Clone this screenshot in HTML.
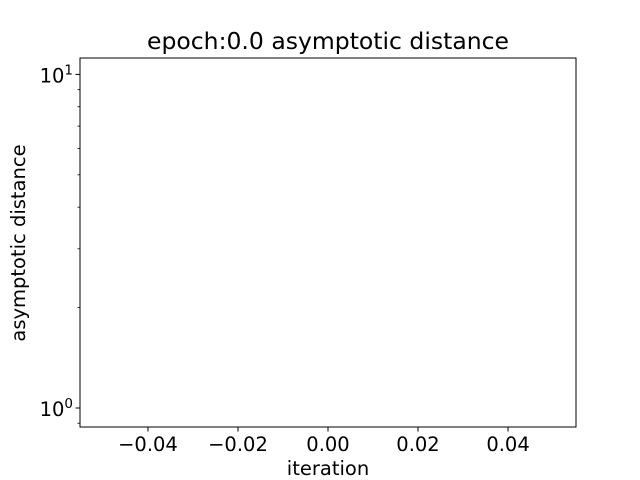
<!DOCTYPE html>
<html><head><meta charset="utf-8"><style>
html,body{margin:0;padding:0;background:#fff;}
svg{display:block;font-family:"DejaVu Sans","Liberation Sans",sans-serif;}
</style></head><body>
<svg id="chart" width="640" height="480">
<rect width="640" height="480" fill="#fff"/>
<text x="328" y="49" text-anchor="middle" font-size="23.5">epoch:0.0 asymptotic distance</text>
<g id="axes"></g>
<text x="328" y="475" text-anchor="middle" font-size="19.5">iteration</text>
<text transform="translate(25,243) rotate(-90)" text-anchor="middle" font-size="19.5">asymptotic distance</text>
</svg>
<script>
const xTicks = [-0.04, -0.02, 0.00, 0.02, 0.04];
const xTickLabels = ["\u22120.04", "\u22120.02", "0.00", "0.02", "0.04"];
const yMajorTicks = [1, 10];
const yMinorTicks = [0.9, 2, 3, 4, 5, 6, 7, 8, 9];
const xDomain = [-0.0551, 0.0551];
const yDomain = [0.877, 11.2];

const L = 80, R = 576, T = 58, B = 427;
const NS = "http://www.w3.org/2000/svg";
const g = document.getElementById('axes');
function xs(v){ return L + (v - xDomain[0]) / (xDomain[1] - xDomain[0]) * (R - L); }
function ys(v){ const a = Math.log10(yDomain[0]), b = Math.log10(yDomain[1]); return B - (Math.log10(v) - a) / (b - a) * (B - T); }
function mk(tag, attrs){ const e = document.createElementNS(NS, tag); for (const k in attrs) e.setAttribute(k, attrs[k]); g.appendChild(e); return e; }

const frame = mk('rect', {x: L, y: T, width: R - L, height: B - T, fill: 'none', stroke: '#000', 'stroke-width': 1});



xTicks.forEach((v, i) => {
  const x = xs(v);
  const t = mk('line', {x1: x, x2: x, y1: B, y2: B + 4.5, stroke: '#000', 'stroke-width': 1});
  
  
  const lb = mk('text', {x: x, y: B + 24, 'text-anchor': 'middle', 'font-size': 19.5});
  lb.textContent = xTickLabels[i];
  
  
});

yMajorTicks.forEach(v => {
  const y = ys(v);
  const t = mk('line', {x1: L - 4.5, x2: L, y1: y, y2: y, stroke: '#000', 'stroke-width': 1});
  
  
  const lb = mk('text', {x: L - 7, y: y + 8, 'text-anchor': 'end', 'font-size': 19.5});
  
  
  const exp = Math.round(Math.log10(v));
  lb.innerHTML = '10<tspan dy="-8" font-size="13.5">' + exp + '</tspan>';
});

yMinorTicks.forEach(v => {
  const y = ys(v);
  const t = mk('line', {x1: L - 2.5, x2: L, y1: y, y2: y, stroke: '#000', 'stroke-width': 0.8});
  
  
});
</script>
</body></html>
